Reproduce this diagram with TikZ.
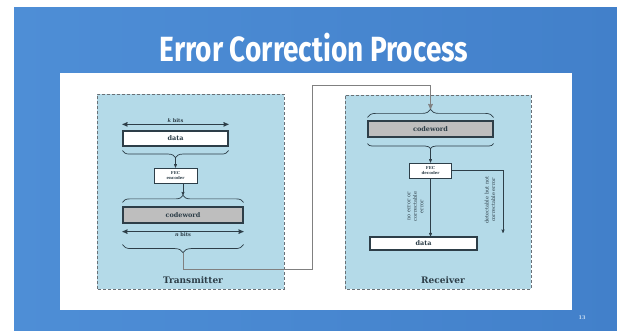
\documentclass[tikz,border=0pt]{standalone}
\usepackage{fontspec}
\usepackage{graphicx}
\setmainfont{DejaVu Serif}
\newfontfamily\titlefont{Fira Sans}
\usetikzlibrary{arrows,positioning,decorations.pathreplacing}

\definecolor{slideblue}{RGB}{78,142,214}
\definecolor{slidebluedeep}{RGB}{66,128,202}
\definecolor{panelblue}{RGB}{180,218,232}
\definecolor{edgegray}{RGB}{105,112,118}
\definecolor{linkgray}{RGB}{128,128,128}
\definecolor{wordgray}{RGB}{190,190,190}
\definecolor{inkdark}{RGB}{45,62,72}
\definecolor{pagetext}{RGB}{200,220,240}

\begin{document}
\begin{tikzpicture}[x=1pt,y=1pt,->,>=stealth',thin,inkdark]
\tikzstyle{bitbox}=[draw=inkdark,fill=white,line width=1.2pt,inner sep=0pt,font=\fontsize{6.5}{7.5}\selectfont\bfseries]
\tikzstyle{fecbox}=[bitbox,line width=0.8pt,align=center,font=\fontsize{4}{4.8}\selectfont\bfseries]
\tikzstyle{site}=[-,draw=edgegray,fill=panelblue,line width=0.9pt,dash pattern=on 3pt off 2pt]
\tikzstyle{span}=[<->,line width=0.9pt]
\tikzstyle{curly}=[-,decorate,line width=0.7pt]
\tikzstyle{bitlabel}=[font=\fontsize{5}{6}\selectfont\bfseries,inner sep=1pt]
\tikzstyle{side}=[rotate=90,align=center,font=\fontsize{5}{6.5}\selectfont]
\tikzstyle{link}=[->,linkgray,line width=1pt]
\tikzstyle{place}=[font=\fontsize{9}{11}\selectfont\bfseries]

\useasboundingbox (0,0) rectangle (617,331);
\fill[white] (0,0) rectangle (617,331);
\shade[left color=slideblue,right color=slidebluedeep] (14,0) rectangle (617,323);
\fill[white] (60,21) rectangle (572,258);

\node[text=white,anchor=base,font=\titlefont\bfseries\fontsize{35}{40}\selectfont] (title) at (314,269) {\scalebox{0.8}[1]{Error Correction Process}};
\node[text=pagetext,font=\fontsize{5}{6}\selectfont\bfseries] (page) at (582,13) {13};

\draw[site] (97,42) rectangle (284,237);
\draw[site] (345,42) rectangle (531,236);

% sending side
\node[bitbox,minimum width=105,minimum height=15] (tdata) at (175.5,192.5) {data};
\node[fecbox,minimum width=43,minimum height=15,below of=tdata,node distance=37pt] (enc) {FEC\\encoder};
\node[bitbox,fill=wordgray,minimum width=120,minimum height=16] (tword) at (183,116) {codeword};
\node[place] (tx) at (193,51) {Transmitter};

\draw[span] ([yshift=6pt]tdata.north west) -- node[bitlabel,above] (kbits) {{\itshape k} bits} ([yshift=6pt]tdata.north east);
\draw[span] ([yshift=-8pt]tword.south west) -- node[bitlabel,below] (nbits) {{\itshape n} bits} ([yshift=-8pt]tword.south east);

\draw[curly,decoration={brace,amplitude=7pt}] ([yshift=-4pt]tdata.south east) -- ([yshift=-4pt]tdata.south west);
\draw[curly,decoration={brace,amplitude=7pt}] ([yshift=4pt]tword.north west) -- ([yshift=4pt]tword.north east);
\draw[curly,decoration={brace,amplitude=8pt}] ([yshift=-21pt]tword.south east) -- ([yshift=-21pt]tword.south west);
\coordinate (ttip1) at ([yshift=-11pt]tdata.south);
\coordinate (ttip2) at ([yshift=11pt]tword.north);
\coordinate (ttip3) at ([yshift=-29pt]tword.south);

% receiving side
\node[bitbox,fill=wordgray,minimum width=125,minimum height=16] (rword) at (430.5,202) {codeword};
\node[fecbox,minimum width=42,minimum height=15,below of=rword,node distance=41.5pt] (dec) {FEC\\decoder};
\node[bitbox,minimum width=107,minimum height=13] (rdata) at (423.5,87.5) {data};
\node[place] (rx) at (443,51) {Receiver};

\draw[curly,decoration={brace,amplitude=8pt}] ([yshift=3pt]rword.north west) -- ([yshift=3pt]rword.north east);
\draw[curly,decoration={brace,amplitude=5pt}] ([yshift=-6pt]rword.south east) -- ([yshift=-6pt]rword.south west);
\coordinate (rtip1) at ([yshift=11pt]rword.north);
\coordinate (rtip2) at ([yshift=-11pt]rword.south);
\coordinate (rcorner) at (503,98);

\node[side] (okpath) at (415.5,124.5) {no error or\\correctable\\error};
\node[side] (badpath) at (490,131) {detectable but not\\correctable error};

% channel
\coordinate (low) at (312,61);
\coordinate (high) at (312,245);
\draw[link] (ttip3) |- (low) -- (high) -| (rtip1);

\path
(ttip1) edge (enc)
(enc.south -| ttip2) edge (ttip2)
(rtip2) edge (dec)
(dec.south) edge (dec.south |- rdata.north)
;
\draw (dec.east) -| (rcorner);
\end{tikzpicture}
\end{document}
